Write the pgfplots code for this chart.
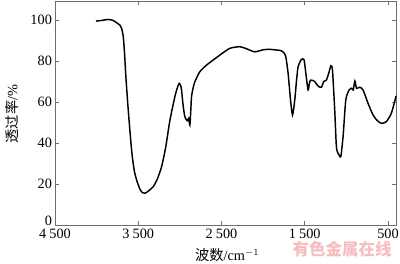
\documentclass[border=0pt]{standalone}
\usepackage{fontspec}
\setmainfont{Liberation Serif}
\newfontfamily\cjk{Noto Sans CJK SC}
\usepackage{pgfplots}
\pgfplotsset{compat=1.18}
\usetikzlibrary{calc}
\definecolor{wm}{RGB}{246,190,190}
\definecolor{axgray}{RGB}{110,110,110}
\begin{document}
\begin{tikzpicture}
\begin{axis}[
  scale only axis,
  width=255.75pt, height=168pt,
  x dir=reverse,
  xmin=404, xmax=4500,
  ymin=0, ymax=109.3,
  xtick={4500,3500,2500,1500,500},
  xticklabels={4\hspace{0.22em}500,3\hspace{0.22em}500,2\hspace{0.22em}500,1\hspace{0.22em}500,500},
  ytick={20,40,60,80,100},
  extra y ticks={0},
  extra y tick style={yticklabel style={yshift=3.5pt}},
  tick align=inside,
  major tick length=3pt,
  tick style={axgray, line width=0.5pt},
  axis line style={axgray, line width=0.6pt},
  tick label style={font=\fontsize{10.7}{11}\selectfont},
  /pgf/number format/assume math mode=true,
  yticklabel style={xshift=1.2pt},
  xticklabel style={yshift=0.5pt},
  xlabel={{\cjk 波数}/cm$^{-1}$},
  ylabel={{\cjk 透过率}/\%},
  label style={font=\fontsize{10.7}{12}\selectfont},
  xlabel style={at={(axis description cs:0.505,-0.134)}, anchor=center},
  ylabel style={at={(axis description cs:-0.126,0.495)}, anchor=center, rotate=0},
  clip=false,
]
\addplot[black, line width=1.1pt, smooth, tension=0.4] coordinates {
(4008,99.5) (3940,99.8) (3860,100.3) (3800,99.8) (3760,98.7) (3720,97.5) (3700,96) (3680,91.9) (3665,84) (3648,72) (3620,56) (3580,36.6) (3550,27) (3520,22) (3480,17.5) (3450,15.8) (3420,15.5) (3380,16.5) (3320,18.7) (3270,22.5) (3220,28.4) (3170,38) (3120,51) (3060,62.6) (3030,67) (3008,69.1) (2990,68) (2980,65.9) (2960,58) (2940,52.8) (2912,50.9) (2895,52) (2880,48.8) (2870,55) (2860,62.6) (2840,67) (2820,69.9) (2760,74.8) (2680,78) (2600,80.5) (2500,83.5) (2400,86.2) (2280,87) (2200,86) (2100,84.5) (2000,85.5) (1920,85.7) (1820,85.3) (1780,85) (1750,84) (1727,82) (1700,74) (1671,61) (1647,53.7) (1620,61) (1600,70) (1580,77.2) (1540,80.8) (1508,80.5) (1487,74) (1460,65.9) (1445,69) (1430,70.7) (1400,70.5) (1380,70) (1340,67.8) (1300,67.2) (1272,70) (1240,70.7) (1207,74.8) (1187,77.7) (1167,75.6) (1140,56) (1120,38.2) (1100,35) (1087,34.1) (1067,33.3) (1040,43) (1007,61) (967,65.9) (938,66.7) (918,65.9) (898,70.2) (878,66.7) (840,67.2) (800,65.9) (740,59.4) (680,53.7) (630,51) (580,49.6) (520,50.4) (460,54.5) (410,61.8) (404,63)
};
\node[font=\cjk\bfseries\fontsize{12.4}{13}\selectfont, text=wm, anchor=center]
  at (axis description cs:0.842,-0.109) {有色金属在线};
\end{axis}
\pgfresetboundingbox
\path[use as bounding box] ($(current axis.south west)+(-41.25pt,-29.25pt)$) rectangle ($(current axis.north east)+(3pt,0.75pt)$);
\end{tikzpicture}
\end{document}
